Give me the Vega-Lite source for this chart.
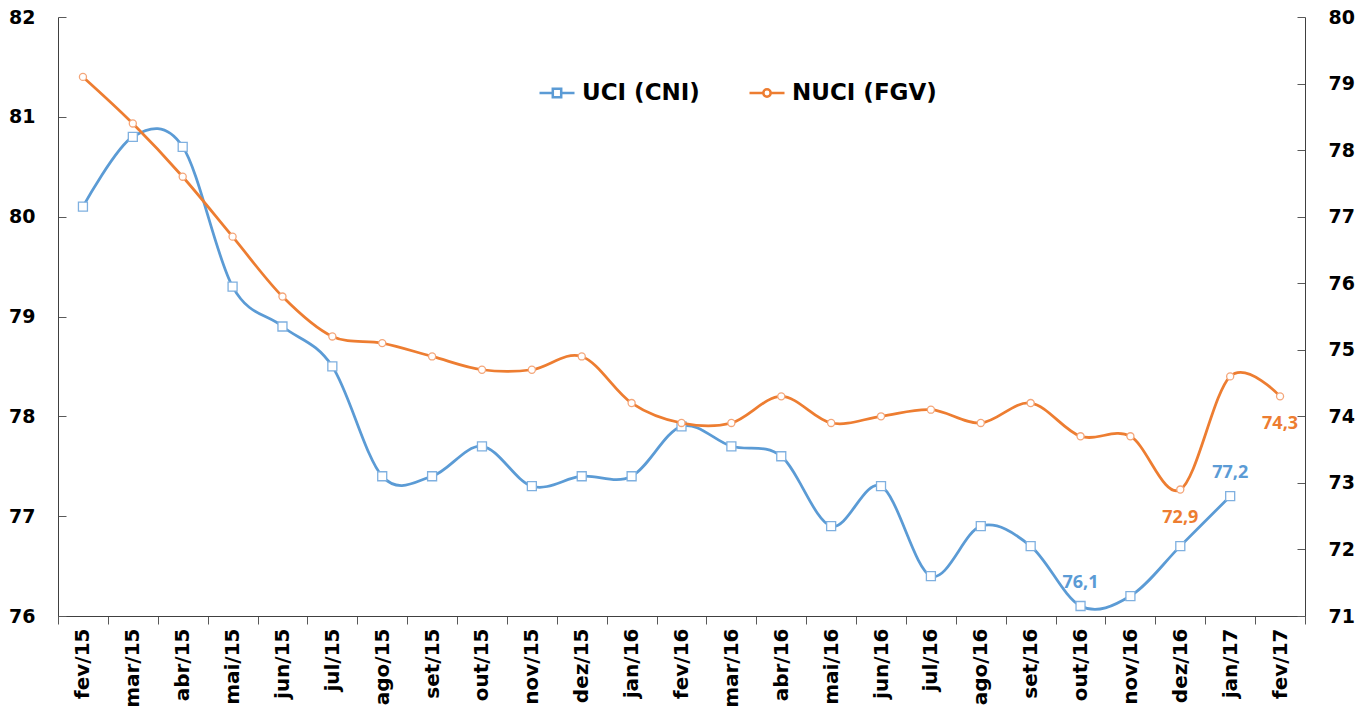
{
  "$schema": "https://vega.github.io/schema/vega-lite/v6.json",
  "width": 1247,
  "height": 599,
  "autosize": "none",
  "padding": {"left": 58, "top": 17, "right": 52, "bottom": 91},
  "background": "white",
  "config": {
    "view": {"stroke": null},
    "axis": {"grid": false, "domainColor": "#404040", "tickColor": "#595959", "labelColor": "#000000", "labelFont": "DejaVu Sans", "labelFontWeight": "bold"},
    "legend": {"labelFont": "DejaVu Sans", "labelFontWeight": "bold", "labelFontSize": 23, "labelColor": "#000000", "symbolSize": 1225, "symbolStrokeWidth": 2.5, "labelOffset": 6, "padding": 0}
  },
  "data": {"values": [
    {"m": "fev/15", "uci": 80.1, "nuci": 79.1},
    {"m": "mar/15", "uci": 80.8, "nuci": 78.4},
    {"m": "abr/15", "uci": 80.7, "nuci": 77.6},
    {"m": "mai/15", "uci": 79.3, "nuci": 76.7},
    {"m": "jun/15", "uci": 78.9, "nuci": 75.8},
    {"m": "jul/15", "uci": 78.5, "nuci": 75.2},
    {"m": "ago/15", "uci": 77.4, "nuci": 75.1},
    {"m": "set/15", "uci": 77.4, "nuci": 74.9},
    {"m": "out/15", "uci": 77.7, "nuci": 74.7},
    {"m": "nov/15", "uci": 77.3, "nuci": 74.7},
    {"m": "dez/15", "uci": 77.4, "nuci": 74.9},
    {"m": "jan/16", "uci": 77.4, "nuci": 74.2},
    {"m": "fev/16", "uci": 77.9, "nuci": 73.9},
    {"m": "mar/16", "uci": 77.7, "nuci": 73.9},
    {"m": "abr/16", "uci": 77.6, "nuci": 74.3},
    {"m": "mai/16", "uci": 76.9, "nuci": 73.9},
    {"m": "jun/16", "uci": 77.3, "nuci": 74.0},
    {"m": "jul/16", "uci": 76.4, "nuci": 74.1},
    {"m": "ago/16", "uci": 76.9, "nuci": 73.9},
    {"m": "set/16", "uci": 76.7, "nuci": 74.2},
    {"m": "out/16", "uci": 76.1, "nuci": 73.7, "lu": "76,1"},
    {"m": "nov/16", "uci": 76.2, "nuci": 73.7},
    {"m": "dez/16", "uci": 76.7, "nuci": 72.9, "ln": "72,9"},
    {"m": "jan/17", "uci": 77.2, "nuci": 74.6, "lu": "77,2"},
    {"m": "fev/17", "uci": null, "nuci": 74.3, "ln": "74,3"}
  ]},
  "encoding": {
    "x": {
      "field": "m", "type": "ordinal", "sort": null, "bandPosition": 0.5,
      "scale": {"type": "band", "paddingInner": 0, "paddingOuter": 0},
      "axis": {"title": null, "labelAngle": -90, "labelFontSize": 20, "tickBand": "extent", "tickSize": 8, "labelPadding": 4}
    }
  },
  "layer": [
    {
      "encoding": {
        "y": {
          "field": "uci", "type": "quantitative",
          "scale": {"domain": [76, 82], "nice": false, "zero": false},
          "axis": {"orient": "left", "title": null, "values": [76, 77, 78, 79, 80, 81, 82], "tickSize": -8, "labelPadding": 31, "labelFontSize": 19}
        }
      },
      "layer": [
        {
          "mark": {"type": "line", "interpolate": "cardinal", "tension": 0, "strokeWidth": 2.75},
          "encoding": {
            "color": {
              "datum": "UCI (CNI)",
              "scale": {"domain": ["UCI (CNI)"], "range": ["#5B9BD5"]},
              "legend": {
                "title": null, "orient": "none", "legendX": 480, "legendY": 57,
                "symbolType": "M-1,0H-0.24M0.24,0H1M-0.24,-0.24H0.24V0.24H-0.24Z"
              }
            }
          }
        },
        {"mark": {"type": "point", "shape": "square", "size": 81, "filled": true, "fill": "white", "stroke": "#7FB0E0", "strokeWidth": 1.3, "opacity": 1}},
        {
          "transform": [{"filter": "isValid(datum.lu)"}],
          "mark": {"type": "text", "dy": -23, "font": "Open Sans", "fontSize": 18, "fontWeight": "bold", "color": "#5B9BD5"},
          "encoding": {"text": {"field": "lu"}}
        }
      ]
    },
    {
      "encoding": {
        "y": {
          "field": "nuci", "type": "quantitative",
          "scale": {"domain": [71, 80], "nice": false, "zero": false},
          "axis": {"orient": "right", "title": null, "values": [71, 72, 73, 74, 75, 76, 77, 78, 79, 80], "tickSize": -8, "labelPadding": 31, "labelFontSize": 19}
        }
      },
      "layer": [
        {
          "mark": {"type": "line", "interpolate": "cardinal", "tension": 0, "strokeWidth": 2.75},
          "encoding": {
            "stroke": {
              "datum": "NUCI (FGV)",
              "scale": {"domain": ["NUCI (FGV)"], "range": ["#ED7D31"]},
              "legend": {
                "title": null, "orient": "none", "legendX": 690, "legendY": 57,
                "symbolType": "M-1,0H-0.21M0.21,0H1M-0.21,0A0.21,0.21 0 1,0 0.21,0A0.21,0.21 0 1,0 -0.21,0Z"
              }
            }
          }
        },
        {"mark": {"type": "point", "shape": "circle", "size": 50, "filled": true, "fill": "white", "stroke": "#F4A67A", "strokeWidth": 1.3, "opacity": 1}},
        {
          "transform": [{"filter": "isValid(datum.ln)"}],
          "mark": {"type": "text", "dy": 28, "font": "Open Sans", "fontSize": 18, "fontWeight": "bold", "color": "#ED7D31"},
          "encoding": {"text": {"field": "ln"}}
        }
      ]
    }
  ],
  "resolve": {"scale": {"y": "independent"}}
}
